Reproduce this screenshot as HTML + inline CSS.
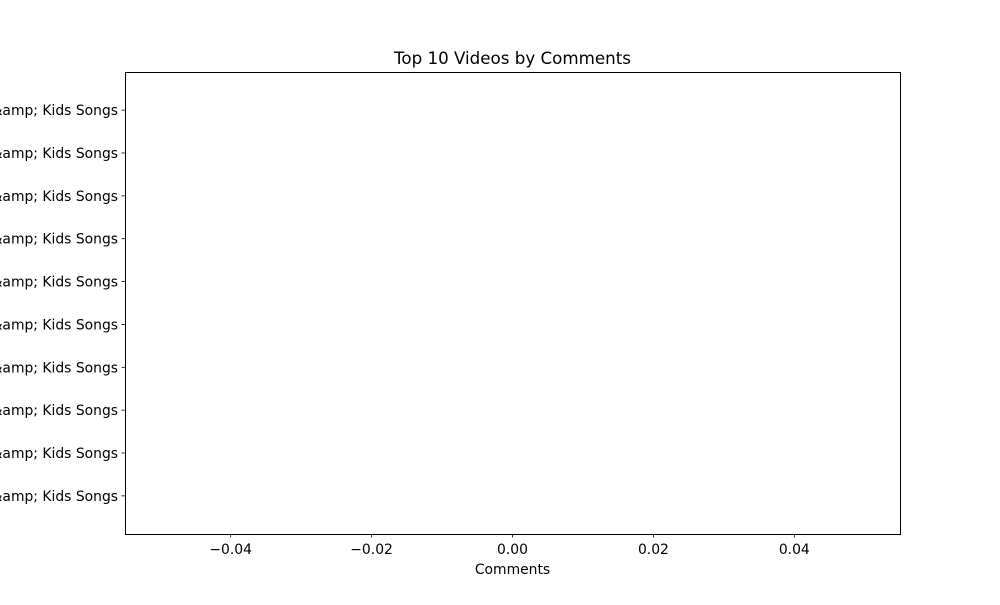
<!DOCTYPE html>
<html><head><meta charset="utf-8"><style>
body{margin:0;background:#fff;}
svg{font-family:"DejaVu Sans","Liberation Sans",sans-serif;}
</style></head><body>
<svg id="chart" width="1000" height="600" xmlns="http://www.w3.org/2000/svg">
<rect width="1000" height="600" fill="#fff"/>
<text x="512.5" y="64" font-size="16.7" text-anchor="middle">Top 10 Videos by Comments</text>
<g id="bars"></g>
<g id="yticks"></g>
<g id="xticks"></g>
<rect x="125.5" y="72.5" width="775" height="462" fill="none" stroke="#000" stroke-width="1"/>
<text x="512.5" y="574" font-size="13.9" text-anchor="middle">Comments</text>
</svg>
<script>
const categories = ["Nursery Rhymes &amp; Kids Songs","Nursery Rhymes &amp; Kids Songs","Nursery Rhymes &amp; Kids Songs","Nursery Rhymes &amp; Kids Songs","Nursery Rhymes &amp; Kids Songs","Nursery Rhymes &amp; Kids Songs","Nursery Rhymes &amp; Kids Songs","Nursery Rhymes &amp; Kids Songs","Nursery Rhymes &amp; Kids Songs","Nursery Rhymes &amp; Kids Songs"];
const comments = [0,0,0,0,0,0,0,0,0,0];
const xTicks = [-0.04,-0.02,0,0.02,0.04];
const xTickLabels = ["\u22120.04","\u22120.02","0.00","0.02","0.04"];
const NS="http://www.w3.org/2000/svg";
const L=125,R=900,T=72,B=534;
const xmin=-0.055,xmax=0.055;
const ymin=-0.89,ymax=categories.length-1+0.89;
const xs=v=>L+(v-xmin)/(xmax-xmin)*(R-L);
const ys=v=>B-(v-ymin)/(ymax-ymin)*(B-T);
const bars=document.getElementById('bars'),yt=document.getElementById('yticks'),xt=document.getElementById('xticks');
function mk(tag,attrs){const e=document.createElementNS(NS,tag);for(const k in attrs)e.setAttribute(k,attrs[k]);return e;}
comments.forEach((v,i)=>{
  const x0=xs(0),x1=xs(v);
  const r=mk('rect',{x:Math.min(x0,x1),y:ys(i+0.4),width:Math.abs(x1-x0),height:ys(i-0.4)-ys(i+0.4),fill:'#1f77b4'});
  
  
  bars.appendChild(r);
  const y=ys(i);
  const tk=mk('line',{x1:L-3.5,x2:L,y1:y,y2:y,stroke:'#000','stroke-width':0.8});
  
  
  yt.appendChild(tk);
  const t=mk('text',{x:L-7,y:y+5,'font-size':13.9,'text-anchor':'end'});
  t.textContent=categories[i];
  
  
  yt.appendChild(t);
});
xTicks.forEach((v,i)=>{
  const x=xs(v);
  const tk=mk('line',{x1:x,x2:x,y1:B,y2:B+3.5,stroke:'#000','stroke-width':0.8});
  
  
  xt.appendChild(tk);
  const t=mk('text',{x:x,y:B+20,'font-size':13.9,'text-anchor':'middle'});
  t.textContent=xTickLabels[i];
  
  
  xt.appendChild(t);
});
</script>
</body></html>
